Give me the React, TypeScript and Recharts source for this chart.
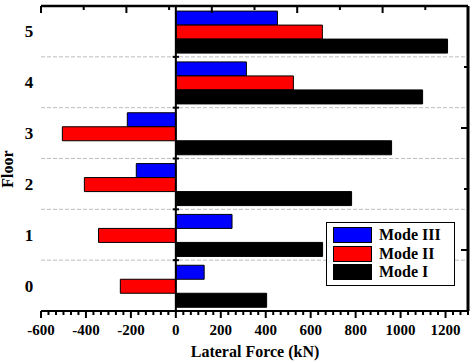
import type { ReactElement } from "react";
import { BarChart, Bar, XAxis, YAxis, ReferenceLine } from "recharts";

// Tang (floor) tu duoi len tren
const floors = ["0", "1", "2", "3", "4", "5"];
// Luc ngang (kN) cho tung mode
const modeI = [404, 653, 782, 960, 1098, 1209];
const modeII = [-247, -344, -407, -505, 523, 652];
const modeIII = [126, 250, -176, -216, 314, 452];

const forceDomain = [-600, 1300];
const forceMajor = [-600, -400, -200, 0, 200, 400, 600, 800, 1000, 1200];
// vach phu: 6 khoang giua hai vach chinh
const forceTicks = Array.from({ length: 58 }, (_, k) => -600 + (k * 200) / 6);
// duong ke o mep tren cua tang 0..4
const boundaryFloors = ["0", "1", "2", "3", "4"];
const frameTicks = [0, 1, 2, 3, 4, 5, 6, 7, 8, 9, 10];

const series = [
  { key: "modeIII", name: "Mode III", color: "#0000ff" },
  { key: "modeII", name: "Mode II", color: "#ff0000" },
  { key: "modeI", name: "Mode I", color: "#000000" },
];

const data = floors.map((floor, i) => ({
  floor,
  modeI: modeI[i],
  modeII: modeII[i],
  modeIII: modeIII[i],
}));

const FONT = "'Liberation Serif', 'Times New Roman', serif";

function isMajor(v: number): boolean {
  return forceMajor.some((m) => Math.abs(m - v) < 1e-6);
}

function BottomTick(props: any): ReactElement {
  const { x, y, payload } = props;
  const major = isMajor(payload.value);
  return (
    <g>
      <line x1={x} x2={x} y1={y} y2={y + (major ? 7 : 4)} stroke="#000" strokeWidth={2} />
      {major && (
        <text x={x} y={y + 24} textAnchor="middle" fontFamily={FONT} fontWeight="bold" fontSize={15} fill="#000">
          {Math.round(payload.value)}
        </text>
      )}
    </g>
  );
}

function TopTick(props: any): ReactElement {
  const { x, y, payload } = props;
  const len = payload.value % 2 === 0 ? 7 : 4;
  return <line x1={x} x2={x} y1={y} y2={y + len} stroke="#000" strokeWidth={2} />;
}

function RightTick(props: any): ReactElement {
  const { x, y, payload } = props;
  const len = payload.value % 2 === 0 ? 7 : 4;
  return <line x1={x} x2={x - len} y1={y} y2={y} stroke="#000" strokeWidth={2} />;
}

function FloorTick(props: any): ReactElement {
  const { x, y, payload } = props;
  return (
    <text x={x - 12} y={y} dy="0.35em" textAnchor="middle" fontFamily={FONT} fontWeight="bold" fontSize={17} fill="#000">
      {payload.value}
    </text>
  );
}

export default function App(): ReactElement {
  return (
    <div style={{ position: "absolute", left: 0, top: 0, width: 476, height: 363, background: "#fff", fontFamily: FONT }}>
      <BarChart
        width={476}
        height={363}
        data={data}
        layout="vertical"
        margin={{ top: 5, right: 7, left: 40, bottom: 51 }}
        barCategoryGap="10%"
        barGap={0}
      >
        <XAxis
          type="number"
          domain={forceDomain}
          ticks={forceTicks}
          interval={0}
          height={1}
          tickSize={0}
          tickMargin={0}
          tickLine={false}
          axisLine={{ stroke: "#000", strokeWidth: 2 }}
          tick={<BottomTick />}
          allowDataOverflow
        />
        <XAxis
          xAxisId="top"
          orientation="top"
          type="number"
          domain={[0, 10]}
          ticks={frameTicks}
          interval={0}
          height={1}
          tickSize={0}
          tickMargin={0}
          tickLine={false}
          axisLine={{ stroke: "#000", strokeWidth: 2.5 }}
          tick={<TopTick />}
          allowDataOverflow
        />
        <YAxis
          yAxisId="cat"
          type="category"
          dataKey="floor"
          reversed
          width={1}
          tickSize={0}
          tickMargin={0}
          tickLine={false}
          axisLine={false}
          interval={0}
          tick={<FloorTick />}
        />
        <YAxis
          yAxisId="right"
          orientation="right"
          type="number"
          domain={[0, 10]}
          ticks={frameTicks}
          interval={0}
          width={1}
          tickSize={0}
          tickMargin={0}
          tickLine={false}
          axisLine={{ stroke: "#000", strokeWidth: 3 }}
          tick={<RightTick />}
          allowDataOverflow
        />
        {boundaryFloors.map((f) => (
          <ReferenceLine
            key={"g" + f}
            yAxisId="cat"
            y={f}
            position="start"
            stroke="#bdbdbd"
            strokeDasharray="4 2"
            strokeWidth={1}
          />
        ))}
        {series.map((s) => (
          <Bar
            key={s.key}
            yAxisId="cat"
            dataKey={s.key}
            name={s.name}
            fill={s.color}
            stroke="#000"
            strokeWidth={1}
            isAnimationActive={false}
          />
        ))}
        <ReferenceLine yAxisId="cat" x={0} stroke="#000" strokeWidth={2} />
        {boundaryFloors.map((f) => (
          <ReferenceLine
            key={"t" + f}
            yAxisId="cat"
            position="start"
            segment={[
              { x: -14, y: f },
              { x: 14, y: f },
            ]}
            stroke="#000"
            strokeWidth={2}
          />
        ))}
      </BarChart>

      <div
        style={{
          position: "absolute",
          left: 0,
          top: 169,
          width: 16,
          transform: "translate(0, -50%) rotate(-90deg)",
          transformOrigin: "center",
          display: "flex",
          justifyContent: "center",
        }}
      >
        <span style={{ fontWeight: "bold", fontSize: 16, whiteSpace: "nowrap" }}>Floor</span>
      </div>
      <div
        style={{
          position: "absolute",
          left: 255,
          top: 343,
          transform: "translateX(-50%)",
          fontWeight: "bold",
          fontSize: 16,
          whiteSpace: "nowrap",
        }}
      >
        Lateral Force (kN)
      </div>

      <div
        style={{
          position: "absolute",
          left: 326,
          top: 222,
          width: 127,
          height: 62,
          border: "1px solid #000",
          background: "#fff",
        }}
      >
        {series.map((s, i) => (
          <div key={s.key} style={{ position: "absolute", left: 6, top: 4 + i * 18.5, display: "flex", alignItems: "center" }}>
            <div style={{ width: 37, height: 14, background: s.color, border: "1px solid #000" }} />
            <span style={{ marginLeft: 7, fontWeight: "bold", fontSize: 16, lineHeight: "16px" }}>{s.name}</span>
          </div>
        ))}
      </div>
    </div>
  );
}
